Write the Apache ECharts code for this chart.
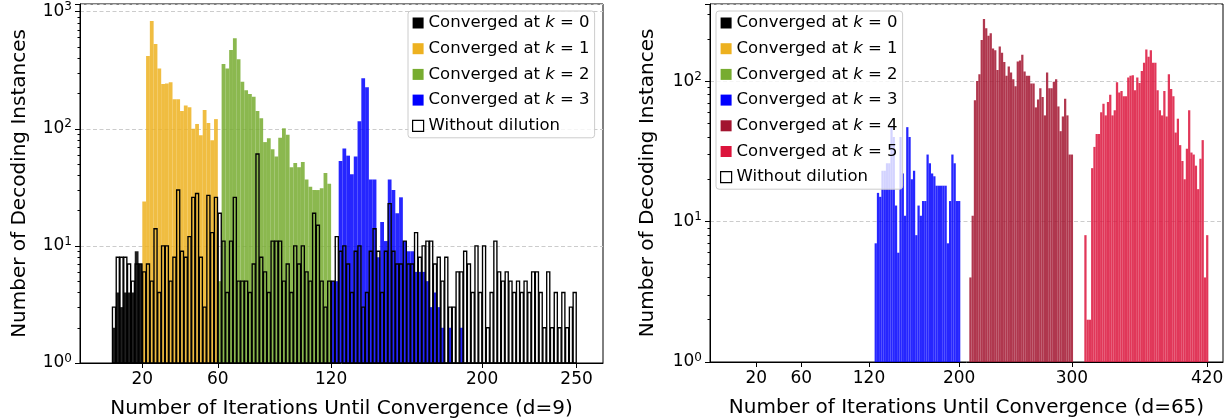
<!DOCTYPE html>
<html><head><meta charset="utf-8">
<script src="https://cdn.jsdelivr.net/npm/echarts@6/dist/echarts.min.js"></script>
<style>html,body{margin:0;padding:0;background:#fff}#c{width:1228px;height:418px}</style>
</head><body><div id="c"></div>
<script>
// ---------- data (bin centre of first bin, then counts per 2-wide bin) ----------
const binWidth = 2;
// Left panel (d = 9)
const leftK0Start = 5;
const leftK0 = [2, 4, 3, 4, 4, 4, 9, 7];
const leftK1Start = 21;
const leftK1 = [24, 418, 832, 530, 328, 241, 244, 250, 179, 179, 142, 158, 153, 100, 110, 88, 145, 112, 80, 121];
const leftK2Start = 61;
const leftK2 = [5, 357, 328, 471, 593, 392, 252, 214, 198, 188, 142, 123, 77, 83, 67, 58, 84, 101, 89, 47, 51, 47, 52, 37, 32, 30, 30, 31, 42, 34];
const leftK3Start = 121;
const leftK3 = [5, 5, 53, 68, 59, 41, 58, 116, 270, 226, 37, 37, 8, 16, 11, 37, 30, 19, 26, 11, 9, 9, 6, 6, 6, 5, 3, 4, 3, 2, 0, 2, 0, 0, 2];
const leftBaseStart = 5;
const leftBase = [3, 8, 8, 8, 7, 5, 7, 7,
  6, 7, 5, 14, 4, 10, 10, 5, 8, 30, 9, 8, 12, 26, 28, 8, 3, 27, 13, 26,
  19, 11, 4, 11, 26, 5, 5, 5, 4, 7, 61, 8, 6, 4, 11, 11, 11, 5, 7, 4, 10, 7, 10, 6, 5, 19, 15, 5, 3, 5,
  5, 12, 9, 10, 7, 4, 9, 10, 3, 4, 9, 14, 9, 4, 9, 23, 9, 7, 7, 11, 7, 7, 13, 8, 10, 11, 11, 7, 8, 5, 8, 3, 3, 6, 6,
  9, 7, 4, 10, 4, 10, 2, 4, 11, 6, 5, 6, 5, 4, 5, 4, 5, 4, 6, 6, 4, 2, 6, 2, 4, 2, 4, 2, 3, 4];
// Right panel (d = 65)
const rightK3Start = 126;
const rightK3 = [7, 16, 15, 23, 23, 26, 26, 48, 40, 13, 6, 40, 22, 11, 47, 40, 20, 23, 8, 13, 11, 14, 14, 30, 26, 22, 21, 18, 18, 18, 18, 18, 7, 14, 30, 26, 14, 14];
const rightK4Start = 210;
const rightK4 = [4, 11, 73, 100, 112, 196, 277, 238, 210, 219, 171, 166, 120, 176, 159, 137, 109, 127, 115, 103, 92, 138, 140, 154, 117, 109, 109, 96, 96, 65, 74, 89, 77, 57, 115, 89, 89, 99, 103, 66, 44, 56, 75, 57, 30, 30];
const rightK5Start = 312;
const rightK5 = [8, 2, 2, 24, 34, 42, 42, 60, 69, 57, 71, 80, 57, 62, 98, 83, 85, 78, 78, 106, 109, 110, 86, 106, 97, 118, 135, 168, 149, 166, 135, 135, 86, 62, 57, 85, 56, 112, 88, 78, 43, 54, 35, 27, 20, 33, 62, 31, 30, 25, 17, 28, 38, 4, 8];
// tick labels
const leftXTicks = [20, 60, 120, 200, 250];
const rightXTicks = [20, 60, 120, 200, 300, 420];
const leftXRange = [-13, 264];
const rightXRange = [-21, 434];
const leftYMax = 1164;
const rightYMax = 354;
const minorTicks = [2,3,4,5,6,7,8,9,20,30,40,50,60,70,80,90,200,300,400,500,600,700,800,900];

const names = ['Converged at k = 0','Converged at k = 1','Converged at k = 2','Converged at k = 3','Converged at k = 4','Converged at k = 5','Without dilution'];
const solid = ['#000000','#EDB120','#77AC30','#0000FF','#A2142F','#DC143C'];
const fills = ['rgba(0,0,0,0.88)','rgba(237,177,32,0.85)','rgba(119,172,48,0.85)','rgba(0,0,255,0.85)','rgba(162,20,47,0.85)','rgba(220,20,60,0.85)'];

function toPairs(start, arr) { return arr.map((v, i) => [start + i * binWidth, v]); }

const FONT = 'DejaVu Sans';

function histSeries(name, gridIdx, data, fill, outline) {
  return {
    type: 'custom', name: name,
    xAxisIndex: gridIdx, yAxisIndex: gridIdx * 2,
    clip: true,
    itemStyle: outline ? {color: '#ffffff', borderColor: '#000', borderWidth: 1.2} : {color: fill},
    z: outline ? 5 : 2,
    renderItem: function (params, api) {
      const x = api.value(0), y = api.value(1);
      if (!(y > 0)) return null;
      const p0 = api.coord([x - binWidth / 2, y]);
      const p1 = api.coord([x + binWidth / 2, 1]);
      if (outline) {
        return {type: 'rect', shape: {x: p0[0] + 0.35, y: p0[1], width: p1[0] - p0[0] - 0.7, height: p1[1] - p0[1]},
          style: {fill: 'none', stroke: '#000', lineWidth: 1.35}};
      }
      return {type: 'rect', shape: {x: p0[0], y: p0[1], width: p1[0] - p0[0], height: p1[1] - p0[1]},
        style: {fill: fill, stroke: null}};
    },
    data: data
  };
}

function xAxis(gridIdx, range, ticks, title) {
  return {
    type: 'value', gridIndex: gridIdx, min: range[0], max: range[1],
    axisLine: {show: true, onZero: false, lineStyle: {color: '#000', width: 1}},
    axisTick: {show: true, length: 5, customValues: ticks, lineStyle: {color: '#000'}},
    axisLabel: {customValues: ticks, color: '#000', fontSize: 17, fontFamily: FONT, margin: 8},
    splitLine: {show: false},
    name: title, nameLocation: 'middle', nameGap: 36,
    nameTextStyle: {fontSize: 20, fontFamily: FONT, color: '#000'}
  };
}
function isPow10(v) { const l = Math.log10(v); return Math.abs(l - Math.round(l)) < 1e-6; }
function yAxisMajor(gridIdx, max, gap) {
  return {
    type: 'log', logBase: 10, gridIndex: gridIdx, min: 1, max: max, position: 'left',
    axisLine: {show: true, onZero: false, lineStyle: {color: '#000', width: 1}},
    axisTick: {show: true, length: 5, lineStyle: {color: '#000'}},
    axisLabel: {
      color: '#000', fontSize: 17, fontFamily: FONT, margin: 8,
      formatter: v => isPow10(v) ? '10{s|' + Math.round(Math.log10(v)) + '}' : '',
      rich: {s: {fontSize: 12, fontFamily: FONT, color: '#000', verticalAlign: 'top', padding: [0, 0, 9, 0]}}
    },
    splitLine: {show: true, lineStyle: {color: '#cccccc', type: [4, 2.5], width: 1}},
    minorTick: {show: false},
    name: 'Number of Decoding Instances', nameLocation: 'middle', nameGap: gap,
    nameTextStyle: {fontSize: 20, fontFamily: FONT, color: '#000'}
  };
}
function yAxisMinor(gridIdx, max) {
  return {
    type: 'log', logBase: 10, gridIndex: gridIdx, min: 1, max: max, position: 'left', offset: 0,
    axisLine: {show: false, onZero: false}, axisLabel: {show: false}, splitLine: {show: false},
    axisTick: {show: true, length: 2.5, customValues: minorTicks.filter(v => v < max), lineStyle: {color: '#000'}}
  };
}

function legendFmt(name) { return name.replace(/k = (\d)/, '{i|k} = $1'); }
function legend(left, top, list) {
  return {
    orient: 'vertical', left: left, top: top, selectedMode: false,
    itemWidth: 11, itemHeight: 11, itemGap: 7.7, icon: 'rect',
    padding: [3, 5, 3, 4],
    backgroundColor: 'rgba(255,255,255,0.8)', borderColor: '#cccccc', borderWidth: 1, borderRadius: 3,
    textStyle: {fontSize: 16.5, fontFamily: FONT, color: '#000', lineHeight: 18,
      rich: {i: {fontStyle: 'italic', fontSize: 16.5, fontFamily: FONT, color: '#000'}}},
    formatter: legendFmt,
    data: list.map(i => i === 6
      ? {name: names[6], itemStyle: {color: '#ffffff', borderColor: '#000', borderWidth: 1.2}}
      : {name: names[i], itemStyle: {color: solid[i], borderWidth: 0}})
  };
}

const option = {
  animation: false,
  backgroundColor: '#ffffff',
  textStyle: {fontFamily: FONT},
  grid: [
    {left: 80, top: 4, width: 523, height: 359, show: true, borderColor: '#000', borderWidth: 1, backgroundColor: 'transparent', outerBoundsMode: 'none', containLabel: false},
    {left: 710, top: 4, width: 513, height: 358, show: true, borderColor: '#000', borderWidth: 1, backgroundColor: 'transparent', outerBoundsMode: 'none', containLabel: false}
  ],
  xAxis: [
    xAxis(0, leftXRange, leftXTicks, 'Number of Iterations Until Convergence (d=9)'),
    xAxis(1, rightXRange, rightXTicks, 'Number of Iterations Until Convergence (d=65)')
  ],
  yAxis: [yAxisMajor(0, leftYMax, 50), yAxisMinor(0, leftYMax), yAxisMajor(1, rightYMax, 52), yAxisMinor(1, rightYMax)],
  legend: [legend(408, 11, [0, 1, 2, 3, 6]), legend(716, 11, [0, 1, 2, 3, 4, 5, 6])],
  series: [
    histSeries(names[0], 0, toPairs(leftK0Start, leftK0), fills[0]),
    histSeries(names[1], 0, toPairs(leftK1Start, leftK1), fills[1]),
    histSeries(names[2], 0, toPairs(leftK2Start, leftK2), fills[2]),
    histSeries(names[3], 0, toPairs(leftK3Start, leftK3), fills[3]),
    histSeries(names[6], 0, toPairs(leftBaseStart, leftBase), null, true),
    histSeries(names[3], 1, toPairs(rightK3Start, rightK3), fills[3]),
    histSeries(names[4], 1, toPairs(rightK4Start, rightK4), fills[4]),
    histSeries(names[5], 1, toPairs(rightK5Start, rightK5), fills[5])
  ]
};
const chart = echarts.init(document.getElementById('c'), null, {renderer: 'canvas'});
chart.setOption(option);
</script></body></html>
